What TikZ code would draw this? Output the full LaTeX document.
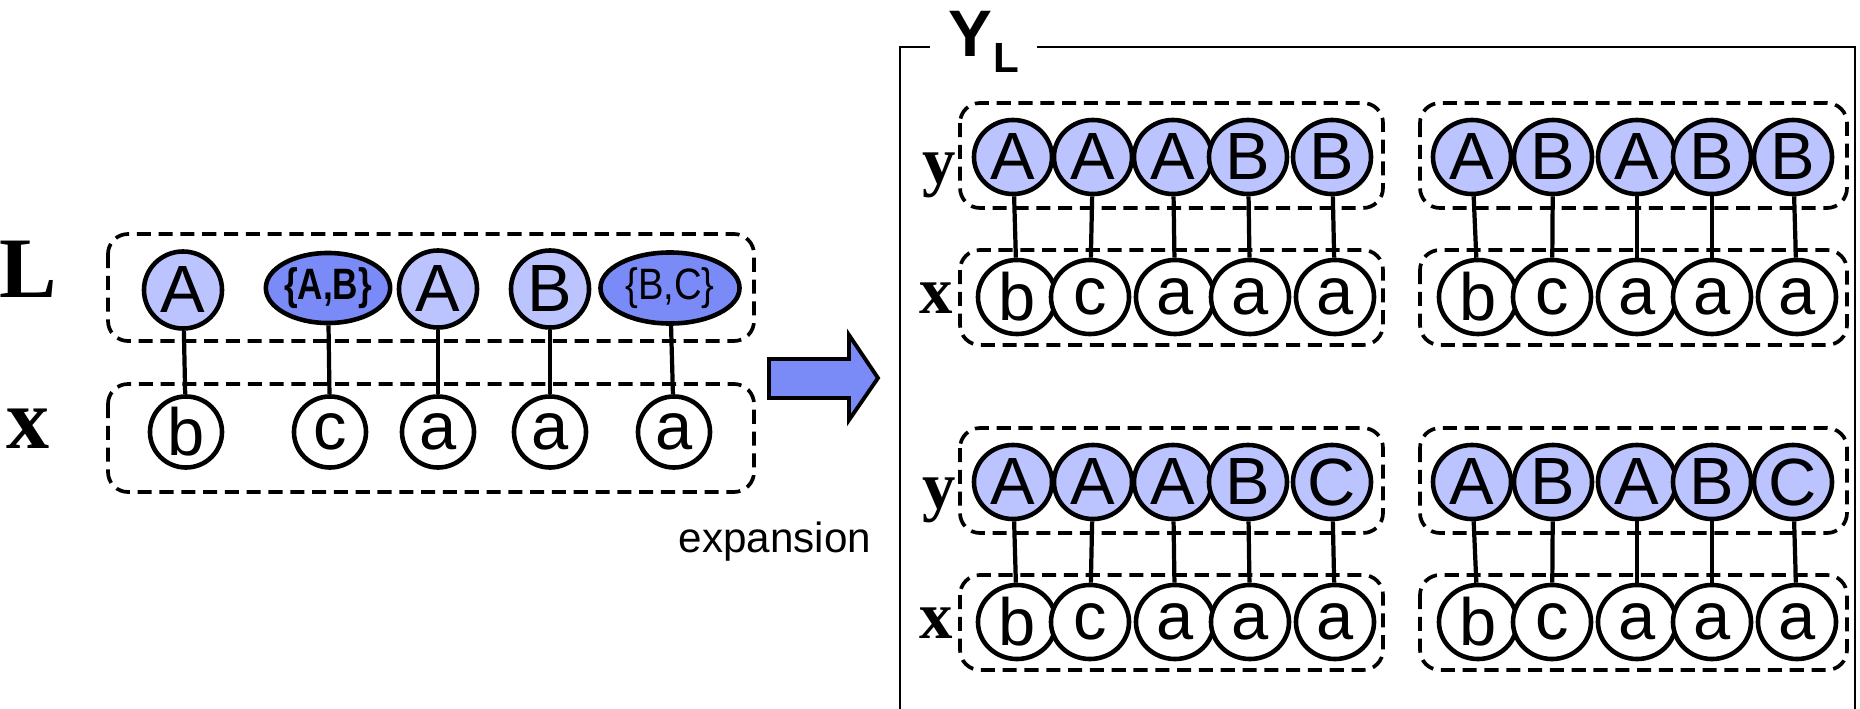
\documentclass[tikz,border=0pt]{standalone}
\usepackage{fontspec}
\usepackage{graphicx}
\setmainfont{Liberation Serif}
\setsansfont{Liberation Sans}
\usetikzlibrary{positioning,shapes.geometric}
\definecolor{ylight}{RGB}{187,196,255}
\definecolor{ydark}{RGB}{122,139,247}
\tikzset{
  lab/.style={draw, ellipse, fill=ylight, line width=1.3pt, inner sep=0pt, minimum width=0.78cm, minimum height=0.74cm, font=\sffamily\fontsize{19}{19}\selectfont},
  obs/.style={lab, fill=white},
  setlab/.style={lab, fill=ydark, font=\sffamily\fontsize{12.5}{12.5}\selectfont},
  lbig/.style={minimum width=0.78cm, minimum height=0.77cm},
  lsmall/.style={minimum width=0.72cm, minimum height=0.71cm},
  grp/.style={draw, dash pattern=on 4pt off 2.2pt, line width=1.05pt, rounded corners=0.2cm},
  link/.style={line width=1.2pt},
  rowname/.style={inner sep=0pt, anchor=base, font=\bfseries\fontsize{19}{19}\selectfont},
  bigarrow/.style={draw, fill=ydark, line width=1.1pt},
  ylframe/.style={line width=0.65pt}
}
\begin{document}
\begin{tikzpicture}[x=0.01cm, y=-0.01cm]
  \useasboundingbox (0,0) rectangle (1860,709);
  % sequence with label sets
  \draw[grp] (108,234) rectangle (754,341);
  \draw[grp] (108,384) rectangle (754,492);
  \node[rowname, font=\bfseries\fontsize{24.5}{24.5}\selectfont] (Lrow) at (28,297) {L};
  \node[rowname, font=\bfseries\fontsize{24.5}{24.5}\selectfont] (xrow) at (28,448) {x};
  \node[lab, lbig] (L1) at (183,290) {A};
  \node[setlab, minimum width=1.24cm, minimum height=0.70cm] (L2) at (328,288) {\scalebox{0.8}[1]{\bfseries\{A,B\}}};
  \node[lab, lbig] (L3) at (438,289) {A};
  \node[lab, lbig] (L4) at (550,289) {B};
  \node[setlab, minimum width=1.39cm, minimum height=0.71cm] (L5) at (670,288) {\scalebox{0.87}[1]{\{B,C\}}};
  \node[obs, lsmall] (X1) at (186,432) {b};
  \node[obs, lsmall] (X2) at (330,432) {c};
  \node[obs, lsmall] (X3) at (438,432) {a};
  \node[obs, lsmall] (X4) at (550,432) {a};
  \node[obs, lsmall] (X5) at (674,432) {a};
  \draw[link] (L1) -- (X1);
  \draw[link] (L2) -- (X2);
  \draw[link] (L3) -- (X3);
  \draw[link] (L4) -- (X4);
  \draw[link] (L5) -- (X5);
  % expansion arrow
  \draw[bigarrow] (769,359) -- (849,359) -- (849,335) -- (878,378) -- (849,420) -- (849,398) -- (769,398) -- cycle;
  \node[anchor=base, inner sep=0pt, font=\sffamily\fontsize{12}{12}\selectfont] (expand) at (775,552) {expansion};
  % Y_L frame
  \node[anchor=base, inner sep=0pt, font=\sffamily\bfseries\fontsize{18.7}{18.7}\selectfont] (Ytitle) at (970,57) {Y};
  \node[anchor=base west, inner sep=0pt, font=\sffamily\bfseries\fontsize{12}{12}\selectfont] (Lsub) at (993,72) {L};
  \draw[ylframe] (930,47) -- (900,47) -- (900,709);
  \draw[ylframe] (1037,47) -- (1855,47) -- (1855,709);
  % upper left: A A A B B
  \draw[grp] (960,103) rectangle (1383,208);
  \draw[grp] (960,250) rectangle (1383,345);
  \node[rowname] (ya) at (939,183) {y};
  \node[rowname] (xa) at (936,313) {x};
  \foreach \i/\xt/\xb/\t/\o in {1/1013/1017/A/b, 2/1093/1090/A/c, 3/1173/1175/A/a, 4/1248/1250/B/a, 5/1332/1335/B/a}{
    \node[lab] (ya\i) at (\xt,157) {\t};
    \node[obs] (xa\i) at (\xb,297) {\o};
    \draw[link] (ya\i) -- (xa\i);
  }
  % upper right: A B A B B
  \draw[grp] (1420,103) rectangle (1847,208);
  \draw[grp] (1420,250) rectangle (1847,345);
  \foreach \i/\xt/\xb/\t/\o in {1/1472/1478/A/b, 2/1553/1552/B/c, 3/1637/1637/A/a, 4/1712/1712/B/a, 5/1793/1797/B/a}{
    \node[lab] (yb\i) at (\xt,157) {\t};
    \node[obs] (xb\i) at (\xb,297) {\o};
    \draw[link] (yb\i) -- (xb\i);
  }
  % lower left: A A A B C
  \draw[grp] (960,428) rectangle (1383,533);
  \draw[grp] (960,575) rectangle (1383,670);
  \node[rowname] (yc) at (939,508) {y};
  \node[rowname] (xc) at (936,638) {x};
  \foreach \i/\xt/\xb/\t/\o in {1/1013/1017/A/b, 2/1093/1090/A/c, 3/1173/1175/A/a, 4/1248/1250/B/a, 5/1332/1335/C/a}{
    \node[lab] (yc\i) at (\xt,482) {\t};
    \node[obs] (xc\i) at (\xb,622) {\o};
    \draw[link] (yc\i) -- (xc\i);
  }
  % lower right: A B A B C
  \draw[grp] (1420,428) rectangle (1847,533);
  \draw[grp] (1420,575) rectangle (1847,670);
  \foreach \i/\xt/\xb/\t/\o in {1/1472/1478/A/b, 2/1553/1552/B/c, 3/1637/1637/A/a, 4/1712/1712/B/a, 5/1793/1797/C/a}{
    \node[lab] (yd\i) at (\xt,482) {\t};
    \node[obs] (xd\i) at (\xb,622) {\o};
    \draw[link] (yd\i) -- (xd\i);
  }
\end{tikzpicture}
\end{document}
